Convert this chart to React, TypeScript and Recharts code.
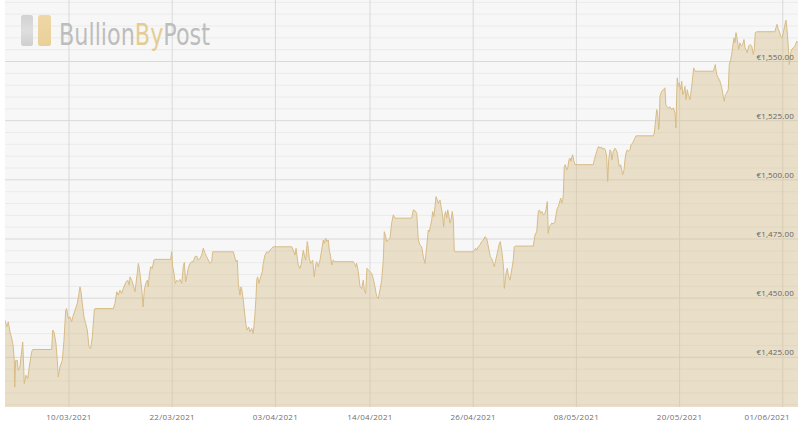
import React from 'react';
import { AreaChart, Area, XAxis, YAxis, CartesianGrid } from 'recharts';

// x values: days counted from 01/03/2021 00:00
const days = [
  1.56, 1.76, 1.94, 2.14, 2.34, 2.52, 2.64, 2.69, 2.8, 2.99,
  3.1, 3.3, 3.42, 3.62, 3.69, 3.8, 4.0, 4.2, 4.38, 4.66,
  4.78, 6.99, 7.1, 7.26, 7.49, 7.64, 7.76, 7.95, 8.22, 8.42,
  8.62, 8.73, 8.92, 9.12, 9.31, 9.5, 9.7, 9.97, 10.16, 10.28,
  10.4, 10.55, 10.74, 10.94, 11.13, 11.33, 11.52, 11.71, 11.94, 12.02,
  14.15, 14.35, 14.55, 14.73, 14.93, 15.13, 15.31, 15.63, 15.83, 16.01,
  16.09, 16.29, 16.48, 16.68, 16.79, 16.94, 17.06, 17.18, 17.34, 17.49,
  17.61, 17.76, 17.92, 18.11, 18.22, 18.34, 18.5, 18.69, 18.88, 19.0,
  20.83, 20.94, 21.06, 21.21, 21.36, 21.52, 21.71, 21.91, 22.11, 22.29,
  22.41, 22.57, 22.69, 22.87, 23.07, 23.27, 23.45, 23.65, 23.85, 24.04,
  24.23, 24.43, 24.62, 24.81, 25.01, 25.2, 25.4, 25.59, 25.71, 28.11,
  28.22, 28.42, 28.57, 28.69, 28.88, 29.0, 29.08, 29.27, 29.47, 29.58,
  29.73, 29.9, 30.05, 30.25, 30.43, 30.63, 30.75, 30.83, 30.94, 31.09,
  31.29, 31.48, 31.59, 31.79, 31.99, 32.17, 32.37, 32.57, 32.76, 34.9,
  35.08, 35.28, 35.4, 35.55, 35.66, 35.86, 35.98, 36.13, 36.25, 36.36,
  36.52, 36.71, 36.83, 36.94, 37.11, 37.22, 37.34, 37.52, 37.69, 37.8,
  37.99, 38.19, 38.38, 38.57, 38.69, 38.85, 39.0, 39.15, 39.27, 39.43,
  39.55, 39.73, 39.93, 42.06, 42.18, 42.34, 42.45, 42.64, 42.84, 43.04,
  43.22, 43.34, 43.5, 43.65, 43.8, 44.0, 44.2, 44.38, 44.58, 44.78,
  44.97, 45.16, 45.36, 45.55, 45.66, 45.83, 45.94, 46.13, 46.33, 46.52,
  46.71, 46.91, 48.85, 49.04, 49.23, 49.43, 49.62, 49.81, 50.01, 50.2,
  50.4, 50.59, 50.78, 50.9, 51.01, 51.18, 51.29, 51.44, 51.56, 51.68,
  51.83, 51.94, 52.14, 52.26, 52.41, 52.57, 52.64, 52.8, 52.92, 53.04,
  53.19, 53.3, 53.42, 53.57, 53.69, 53.8, 53.88, 56.01, 56.13, 56.29,
  56.41, 56.59, 56.79, 56.99, 57.18, 57.37, 57.57, 57.69, 57.84, 57.99,
  58.15, 58.34, 58.45, 58.62, 58.8, 59.0, 59.15, 59.31, 59.43, 59.55,
  59.62, 59.82, 59.97, 60.08, 60.28, 60.48, 60.66, 60.78, 60.94, 62.99,
  63.19, 63.39, 63.57, 63.69, 63.85, 64.0, 64.15, 64.35, 64.47, 64.62,
  64.73, 64.85, 65.01, 65.13, 65.32, 65.51, 65.63, 65.78, 65.9, 66.01,
  66.18, 66.29, 66.41, 66.48, 66.59, 66.71, 66.87, 66.99, 67.14, 67.26,
  67.37, 67.49, 67.57, 67.72, 67.84, 69.97, 70.08, 70.25, 70.36, 70.48,
  70.59, 70.75, 70.9, 71.06, 71.21, 71.36, 71.52, 71.64, 71.76, 71.91,
  72.02, 72.14, 72.29, 72.49, 72.61, 72.76, 72.87, 72.99, 73.15, 73.27,
  73.38, 73.54, 73.65, 73.77, 73.92, 74.04, 74.23, 74.35, 74.55, 74.73,
  74.93, 76.94, 77.06, 77.22, 77.34, 77.45, 77.57, 77.64, 77.72, 77.92,
  78.11, 78.3, 78.4, 78.5, 78.69, 78.88, 79.08, 79.27, 79.47, 79.58,
  79.66, 79.73, 79.85, 79.97, 80.13, 80.25, 80.36, 80.51, 80.63, 80.75,
  80.9, 81.01, 81.21, 81.41, 81.52, 81.64, 81.79, 83.92, 84.04, 84.15,
  84.32, 84.5, 84.7, 84.9, 85.08, 85.2, 85.32, 85.48, 85.66, 85.78,
  85.94, 86.06, 86.18, 86.33, 86.44, 86.56, 86.71, 86.87, 87.02, 87.18,
  87.34, 87.49, 87.61, 87.72, 87.87, 88.04, 88.19, 88.39, 88.57, 88.69,
  88.8, 88.97, 91.09, 91.21, 91.33, 91.48, 91.59, 91.76, 91.91, 92.06,
  92.22, 92.37, 92.49, 92.64, 92.76, 92.92, 93.04, 93.22, 93.42, 93.62,
  93.77,
];

const prices = [
  1440.7, 1437.8, 1440.0, 1435.7, 1433.1, 1429.4, 1423.7, 1412.4, 1423.7, 1423.7,
  1419.5, 1420.9, 1425.1, 1431.5, 1425.1, 1413.9, 1417.4, 1416.0, 1420.9, 1427.3,
  1428.3, 1428.3, 1436.5, 1435.7, 1430.8, 1423.7, 1416.7, 1420.9, 1423.7, 1432.2,
  1444.9, 1445.6, 1441.4, 1442.1, 1440.0, 1442.8, 1444.9, 1447.8, 1452.0, 1454.8,
  1452.7, 1447.8, 1442.1, 1439.3, 1436.5, 1429.4, 1428.7, 1433.6, 1444.9, 1445.6,
  1445.6, 1447.8, 1452.7, 1451.3, 1453.4, 1452.0, 1454.1, 1456.9, 1457.6, 1455.5,
  1459.0, 1457.6, 1455.5, 1452.7, 1456.2, 1460.5, 1464.7, 1462.6, 1457.6, 1452.7,
  1446.3, 1453.4, 1456.2, 1457.6, 1454.8, 1459.8, 1463.3, 1462.6, 1466.1, 1466.4,
  1466.4, 1469.6, 1463.3, 1460.5, 1456.2, 1457.6, 1456.9, 1457.9, 1456.2, 1463.3,
  1465.1, 1456.9, 1459.0, 1462.6, 1464.7, 1465.4, 1465.4, 1467.5, 1467.8, 1466.1,
  1466.8, 1468.2, 1471.1, 1469.0, 1467.5, 1466.1, 1464.7, 1465.4, 1469.6, 1469.6,
  1468.2, 1465.4, 1466.1, 1456.2, 1451.3, 1454.8, 1454.1, 1449.2, 1442.1, 1438.6,
  1436.5, 1437.8, 1435.7, 1437.2, 1435.0, 1443.5, 1450.6, 1457.6, 1459.0, 1456.2,
  1459.0, 1461.2, 1464.7, 1468.2, 1469.6, 1469.2, 1470.3, 1471.1, 1471.7, 1471.7,
  1470.3, 1468.2, 1471.1, 1466.8, 1464.0, 1462.6, 1464.0, 1467.5, 1470.3, 1468.2,
  1466.1, 1473.9, 1471.1, 1466.8, 1464.7, 1465.4, 1466.1, 1459.0, 1464.0, 1465.4,
  1463.3, 1466.1, 1470.3, 1474.6, 1473.2, 1475.3, 1473.9, 1474.6, 1470.3, 1467.5,
  1464.0, 1466.1, 1465.4, 1465.4, 1464.7, 1463.3, 1464.7, 1461.2, 1454.8, 1454.1,
  1457.6, 1453.4, 1452.0, 1462.6, 1461.9, 1461.2, 1460.5, 1458.3, 1454.8, 1450.6,
  1449.9, 1453.4, 1457.6, 1466.1, 1478.1, 1476.0, 1473.9, 1474.6, 1475.3, 1481.7,
  1485.2, 1483.8, 1483.8, 1487.3, 1487.0, 1485.9, 1474.6, 1472.5, 1471.7, 1467.5,
  1464.7, 1471.7, 1478.8, 1478.1, 1480.2, 1483.1, 1486.6, 1484.5, 1488.7, 1492.9,
  1491.5, 1490.1, 1491.5, 1488.7, 1485.9, 1480.2, 1484.5, 1486.6, 1483.8, 1487.3,
  1484.5, 1481.7, 1483.1, 1486.6, 1483.1, 1470.3, 1469.6, 1469.6, 1470.3, 1471.1,
  1470.3, 1471.7, 1472.5, 1473.9, 1474.6, 1476.0, 1475.3, 1473.2, 1470.3, 1467.5,
  1466.8, 1464.7, 1463.3, 1466.1, 1468.9, 1472.5, 1473.9, 1470.3, 1466.8, 1461.9,
  1454.1, 1460.5, 1462.6, 1459.8, 1457.6, 1461.9, 1466.1, 1471.7, 1472.0, 1472.0,
  1476.7, 1478.1, 1486.6, 1487.3, 1485.9, 1486.6, 1485.2, 1485.9, 1487.3, 1490.8,
  1477.4, 1480.2, 1480.9, 1481.7, 1481.4, 1482.3, 1485.2, 1488.0, 1488.7, 1490.1,
  1492.3, 1490.1, 1491.5, 1493.7, 1505.6, 1506.4, 1504.2, 1505.0, 1508.5, 1509.2,
  1507.8, 1509.9, 1510.6, 1507.8, 1506.4, 1506.4, 1508.5, 1510.6, 1512.0, 1513.4,
  1514.1, 1513.4, 1513.9, 1513.0, 1513.4, 1512.7, 1509.9, 1499.3, 1508.5, 1512.7,
  1512.0, 1508.5, 1512.0, 1513.4, 1512.7, 1511.3, 1508.5, 1505.6, 1506.4, 1504.2,
  1502.1, 1504.2, 1508.5, 1511.3, 1512.7, 1512.0, 1512.7, 1514.8, 1515.6, 1517.0,
  1518.6, 1518.6, 1519.8, 1525.4, 1529.7, 1528.3, 1521.2, 1523.3, 1535.3, 1537.4,
  1538.1, 1538.9, 1531.8, 1531.1, 1530.4, 1530.8, 1529.7, 1530.4, 1528.3, 1521.9,
  1535.3, 1543.1, 1539.5, 1541.0, 1538.1, 1541.7, 1536.0, 1537.4, 1539.5, 1533.9,
  1538.1, 1536.0, 1533.9, 1539.5, 1543.1, 1547.3, 1545.9, 1545.9, 1547.3, 1548.7,
  1544.5, 1543.1, 1541.7, 1538.9, 1535.3, 1533.2, 1536.0, 1536.7, 1538.1, 1548.7,
  1550.8, 1553.0, 1556.5, 1560.0, 1557.9, 1562.2, 1559.3, 1555.1, 1557.9, 1556.5,
  1557.2, 1559.3, 1555.8, 1555.1, 1553.7, 1556.5, 1557.2, 1556.5, 1553.0, 1555.1,
  1562.2, 1562.6, 1562.6, 1564.3, 1565.7, 1563.6, 1562.8, 1560.7, 1560.0, 1562.2,
  1565.0, 1567.5, 1563.6, 1556.5, 1548.7, 1553.7, 1555.1, 1555.8, 1556.5, 1558.6,
  1558.0,
];

const tickDays = [9, 21, 33, 44, 56, 68, 80, 92];
const tickLabels = ['10/03/2021', '22/03/2021', '03/04/2021', '14/04/2021', '26/04/2021', '08/05/2021', '20/05/2021', '01/06/2021'];
const majorPrices = [1425, 1450, 1475, 1500, 1525, 1550];
const minorPrices = [1405, 1410, 1415, 1420, 1430, 1435, 1440, 1445, 1455, 1460, 1465, 1470, 1480, 1485, 1490, 1495, 1505, 1510, 1515, 1520, 1530, 1535, 1540, 1545, 1555, 1560, 1565, 1570, 1575];
const xDomain = [1.56, 93.77];
const yDomain = [1404, 1576];

const data = days.map((d, i) => ({ day: d, price: prices[i] }));

const fmtEuro = (v: number) =>
  '€' + v.toLocaleString('en-GB', { minimumFractionDigits: 2, maximumFractionDigits: 2 });

const CHART_W = 800;

const XTick = (props: any) => {
  const { x, y, payload } = props;
  const i = tickDays.indexOf(payload.value);
  const half = 23;
  const overflow = x + half > CHART_W - 8;
  return (
    <text x={overflow ? CHART_W - 10 : x} y={y} dy={12.5} textAnchor={overflow ? 'end' : 'middle'}
      fill="#6f6f6f" fontSize={8} letterSpacing={0.3} fontFamily="'Open Sans', sans-serif">
      {i >= 0 ? tickLabels[i] : ''}
    </text>
  );
};

const YTick = (props: any) => {
  const { x, y, payload } = props;
  return (
    <text x={x} y={y} dy={-2} textAnchor="end" fill="#666" fontSize={8} letterSpacing={0.15}
      fontFamily="'Open Sans', sans-serif">
      {fmtEuro(payload.value)}
    </text>
  );
};

const logoFont = "'DejaVu Sans Condensed', 'DejaVu Sans', sans-serif";

const Logo = () => (
  <svg width={260} height={60} style={{ position: 'absolute', left: 0, top: 0, pointerEvents: 'none' }}>
    <defs>
      <linearGradient id="gbar" x1="0" y1="0" x2="0" y2="1">
        <stop offset="0" stopColor="#d2d2d2" />
        <stop offset="0.5" stopColor="#dedede" />
        <stop offset="1" stopColor="#cfcfcf" />
      </linearGradient>
      <linearGradient id="ybar" x1="0" y1="0" x2="0" y2="1">
        <stop offset="0" stopColor="#eed8a6" />
        <stop offset="1" stopColor="#e9d09a" />
      </linearGradient>
    </defs>
    <rect x={21} y={15} width={12} height={31} rx={2.5} fill="url(#gbar)" />
    <rect x={38} y={15} width={13} height={31} rx={2.5} fill="url(#ybar)" />
    <text transform="translate(59,45) scale(0.8,1)" x={0} y={0} fontSize={31} fontFamily={logoFont}
      fontWeight={200} fill="#bdbdbd">
      Bullion<tspan fill="#e4cd95">By</tspan>Post
    </text>
  </svg>
);

export default function App() {
  return (
    <div style={{ position: 'absolute', left: 0, top: 0, width: CHART_W, height: 423, background: '#fff' }}>
      <AreaChart width={CHART_W} height={423} data={data} margin={{ top: 0, right: 2, left: 5, bottom: 0 }}>
        <CartesianGrid horizontalValues={minorPrices} vertical={false} stroke="#ebebeb" fill="#f7f7f7" />
        <CartesianGrid horizontalValues={majorPrices} verticalValues={tickDays} stroke="#d9d9d9" />
        <XAxis
          dataKey="day"
          type="number"
          domain={xDomain}
          ticks={tickDays}
          allowDataOverflow
          axisLine={false}
          tickLine={false}
          tickSize={0}
          tickMargin={0}
          height={16}
          tick={<XTick />}
          interval={0}
        />
        <YAxis
          type="number"
          domain={yDomain}
          ticks={majorPrices}
          allowDataOverflow
          orientation="right"
          mirror
          width={60}
          axisLine={false}
          tickLine={false}
          tickSize={0}
          tickMargin={4}
          tick={<YTick />}
          interval={0}
        />
        <Area
          type="linear"
          dataKey="price"
          stroke="#d8bc86"
          strokeWidth={1}
          fill="#d8bf8f"
          fillOpacity={0.45}
          isAnimationActive={false}
          dot={false}
          activeDot={false}
        />
      </AreaChart>
      <Logo />
    </div>
  );
}
